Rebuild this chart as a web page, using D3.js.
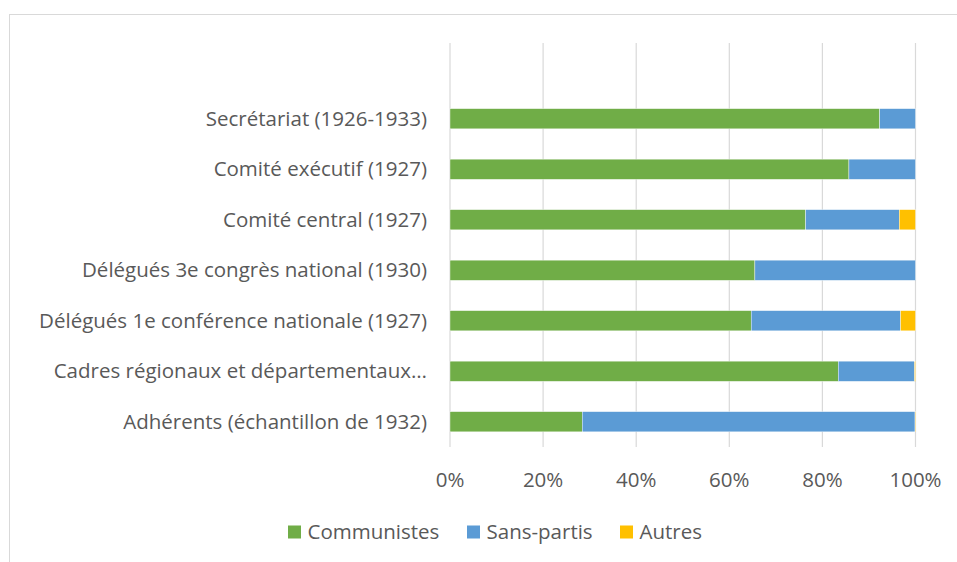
<!DOCTYPE html>
<html>
<head>
<meta charset="utf-8">
<script src="https://cdn.jsdelivr.net/npm/d3@7"></script>
<style>
  html, body { margin: 0; padding: 0; background: #fff; }
  svg { display: block; }
  text { font-family: "Open Sans", sans-serif; fill: #595959; }
</style>
</head>
<body>
<svg id="chart" width="957" height="562"></svg>
<script>
// Categories, top to bottom
const categories = [
  "Secrétariat (1926-1933)",
  "Comité exécutif (1927)",
  "Comité central (1927)",
  "Délégués 3e congrès national (1930)",
  "Délégués 1e conférence nationale (1927)",
  "Cadres régionaux et départementaux…",
  "Adhérents (échantillon de 1932)"
];
// Shares (%) per series, same order as categories
const communistes = [92.3, 85.7, 76.4, 65.5, 64.7, 83.4, 28.4];
const sansPartis  = [7.7, 14.3, 20.1, 34.5, 32.1, 16.4, 71.5];
const autres      = [0, 0, 3.5, 0, 3.2, 0.2, 0.1];
const seriesNames = ["Communistes", "Sans-partis", "Autres"];
const tickValues = [0, 20, 40, 60, 80, 100];

const colors = ["#70AD47", "#5B9BD5", "#FFC000"];

const svg = d3.select("#chart");

// chart frame
svg.append("rect")
  .attr("x", 9.5).attr("y", 14.5)
  .attr("width", 960).attr("height", 560)
  .attr("fill", "none").attr("stroke", "#D9D9D9").attr("stroke-width", 1);

const plot = { left: 450, right: 915.5, top: 43, bottom: 447 };

const x = d3.scaleLinear().domain([0, 100]).range([plot.left, plot.right]);
// one empty slot at the top, as in the original layout
const y = d3.scaleBand()
  .domain(["", ...categories])
  .range([plot.top, plot.bottom])
  .paddingInner(0.6).paddingOuter(0.3);

// gridlines
svg.append("g")
  .selectAll("line")
  .data(tickValues)
  .join("line")
  .attr("x1", d => x(d)).attr("x2", d => x(d))
  .attr("y1", plot.top).attr("y2", plot.bottom)
  .attr("stroke", "#D9D9D9").attr("stroke-width", 1.2);

// stacked data
const rows = categories.map((c, i) => ({
  cat: c, Communistes: communistes[i], "Sans-partis": sansPartis[i], Autres: autres[i]
}));
const stack = d3.stack().keys(seriesNames)(rows);

svg.append("g")
  .selectAll("g")
  .data(stack)
  .join("g")
  .attr("fill", (d, i) => colors[i])
  .selectAll("rect")
  .data(d => d)
  .join("rect")
  .attr("x", d => x(d[0]))
  .attr("width", d => Math.max(0, x(d[1]) - x(d[0])))
  .attr("y", d => y(d.data.cat))
  .attr("height", y.bandwidth())
  .attr("stroke", "#fff").attr("stroke-width", 0.4);

// category labels
svg.append("g")
  .selectAll("text")
  .data(categories)
  .join("text")
  .attr("x", 427)
  .attr("y", d => y(d) + y.bandwidth() / 2)
  .attr("dy", "0.35em")
  .attr("text-anchor", "end")
  .attr("font-size", 20.5)
  .text(d => d);

// x axis tick labels
svg.append("g")
  .selectAll("text")
  .data(tickValues)
  .join("text")
  .attr("x", d => x(d))
  .attr("y", 486.5)
  .attr("text-anchor", "middle")
  .attr("font-size", 20.5)
  .text(d => d + "%");

// legend
const legendX = [288, 467, 620];
const legend = svg.append("g")
  .selectAll("g")
  .data(seriesNames)
  .join("g")
  .attr("transform", (d, i) => `translate(${legendX[i]},525.5)`);
legend.append("rect")
  .attr("width", 13).attr("height", 13)
  .attr("fill", (d, i) => colors[i]);
legend.append("text")
  .attr("x", 19.5).attr("y", 6.5).attr("dy", "0.35em")
  .attr("font-size", 20.5)
  .text(d => d);
</script>
</body>
</html>
